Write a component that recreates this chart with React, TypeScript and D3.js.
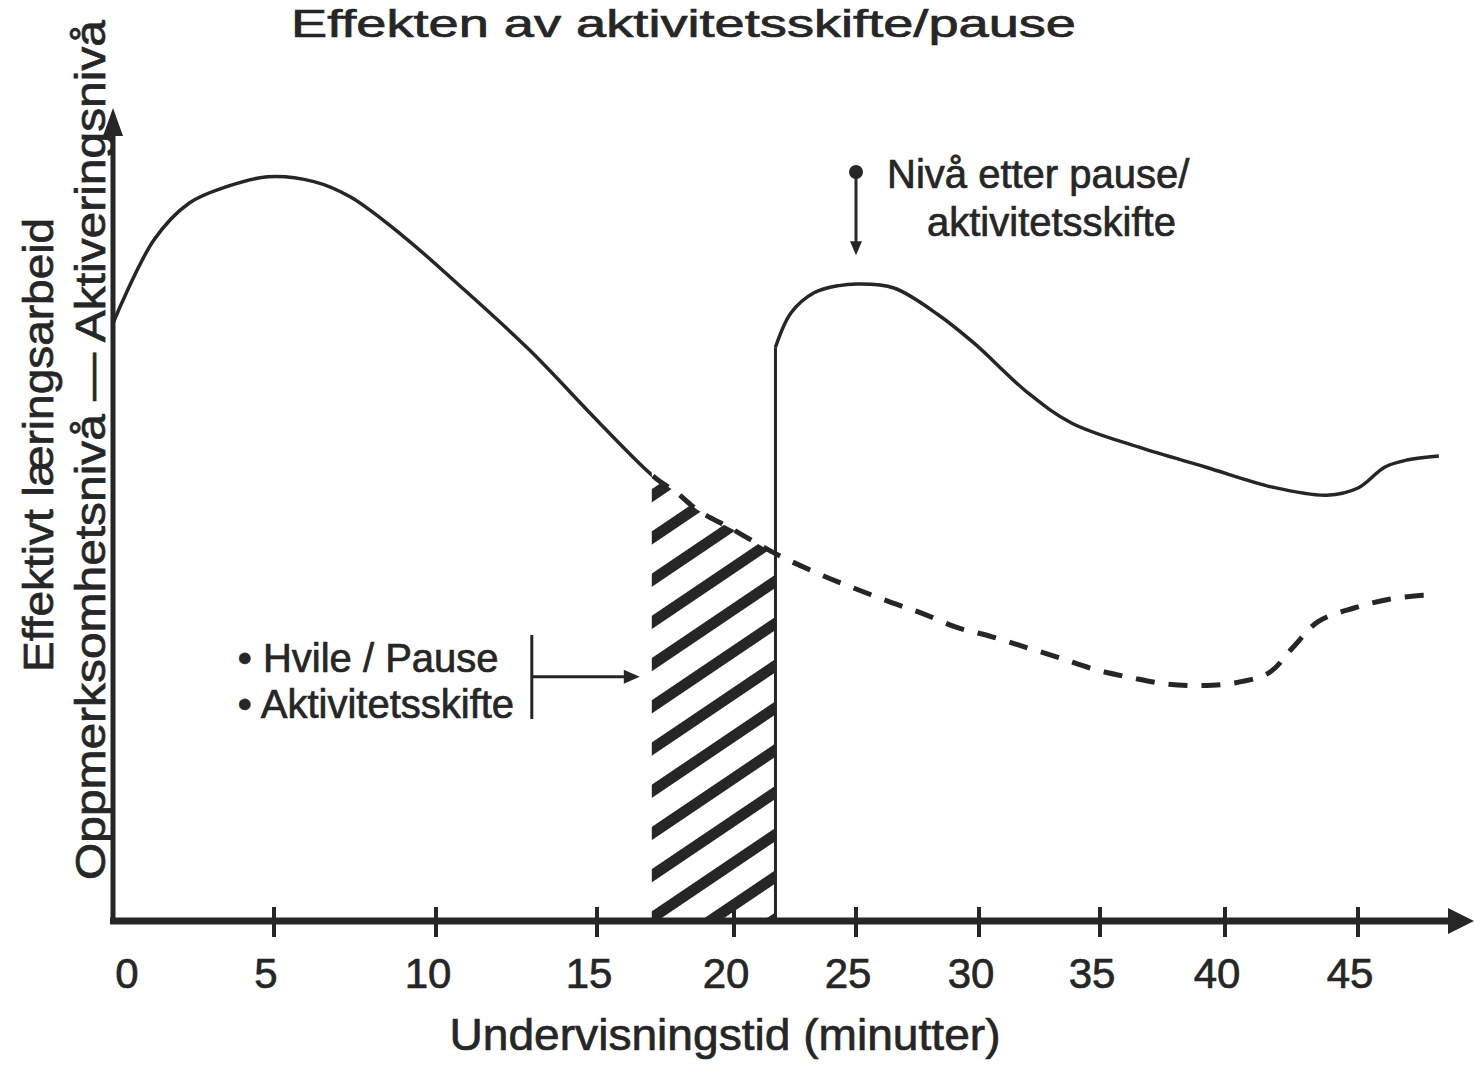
import React from 'react';
import * as d3 from 'd3';

// ---- data (minutes on x, activation level 0-100 on y) ----
const tickMinutes = [0, 5, 10, 15, 20, 25, 30, 35, 40, 45];
const tickLabels = ['0', '5', '10', '15', '20', '25', '30', '35', '40', '45'];

// Attention level without a pause (solid until the pause, dashed afterwards)
const attentionMinutes = [0, 1.27, 2.36, 3.48, 4.81, 6.23, 7.35, 9.01, 10.65, 12.89, 15.1, 17.08, 17.92, 18.65, 19.96, 21.7, 23.6, 24.9, 26.34, 27.64, 29.07, 30.54, 32.02, 33.3, 34.8, 36.24, 37.64, 39.0, 40.3, 41.65, 42.56, 43.5, 44.85, 46.17, 47.44, 47.7];
const attentionLevel = [74.6, 85.0, 89.6, 91.6, 92.9, 92.3, 90.4, 85.4, 79.6, 71.3, 62.1, 55.4, 53.4, 51.3, 48.8, 45.8, 43.1, 41.5, 39.8, 38.4, 36.6, 35.4, 34.0, 32.8, 31.3, 30.3, 29.5, 29.3, 29.6, 30.9, 34.1, 37.3, 39.0, 40.1, 40.6, 40.6];

// Attention level after pause / change of activity
const afterPauseMinutes = [21.7, 22.34, 23.28, 24.3, 25.08, 26.54, 28.37, 29.8, 32.02, 33.84, 36.56, 39.24, 41.8, 43.83, 45.0, 46.0, 46.84, 48.04];
const afterPauseLevel = [71.6, 75.9, 78.4, 79.3, 79.5, 79.0, 75.6, 72.1, 65.9, 62.1, 59.1, 56.6, 54.1, 53.1, 54.0, 56.6, 57.5, 58.0];

const pauseStartMinute = 17.0;
const pauseEndMinute = 21.7;
const markerMinute = 25;
const markerTopLevel = 93.5;
const markerTipLevel = 83.1;
const pauseArrowLevel = 30.4;

const title = 'Effekten av aktivitetsskifte/pause';
const xTitle = 'Undervisningstid (minutter)';
const yTitle1 = 'Effektivt læringsarbeid';
const yTitle2 = 'Oppmerksomhetsnivå — Aktiveringsnivå';
const pauseLabels = ['• Hvile / Pause', '• Aktivitetsskifte'];
const markerLabels = ['Nivå etter pause/', 'aktivitetsskifte'];

const W = 1474;
const H = 1067;
const INK = '#262626';
const FONT = '"Liberation Sans", Arial, Helvetica, sans-serif';

export default function App() {
  // hand-drawn axis: tick spacing is uneven in the original figure
  const x = d3
    .scaleLinear()
    .domain(tickMinutes)
    .range([113, 274, 436, 597, 734, 856, 979, 1100, 1225, 1358]);
  const y = d3.scaleLinear().domain([0, 100]).range([920, 120]);

  const attention = attentionMinutes.map((m, i) => [m, attentionLevel[i]] as [number, number]);
  const afterPause = afterPauseMinutes.map((m, i) => [m, afterPauseLevel[i]] as [number, number]);

  const curve = d3.curveCatmullRom.alpha(0.5);
  const line = d3
    .line<[number, number]>()
    .x((d) => x(d[0]))
    .y((d) => y(d[1]))
    .curve(curve);
  const area = d3
    .area<[number, number]>()
    .x((d) => x(d[0]))
    .y0(y(0))
    .y1((d) => y(d[1]))
    .curve(curve);

  const xs = x(pauseStartMinute);
  const xe = x(pauseEndMinute);
  const axisY = y(0) + 1;
  const mx = x(markerMinute);
  const pauseArrowY = y(pauseArrowLevel);
  const bracketX = xs - 120;

  const textStyle = { fontFamily: FONT, fill: INK, stroke: INK, strokeWidth: 0.7 } as const;

  return (
    <svg
      width={W}
      height={H}
      viewBox={`0 0 ${W} ${H}`}
      style={{ position: 'absolute', left: 0, top: 0, background: '#fff' }}
    >
      <defs>
        <pattern
          id="hatch"
          patternUnits="userSpaceOnUse"
          width={200}
          height={35}
          patternTransform="rotate(-34)"
        >
          <rect x={0} y={0} width={200} height={11} fill={INK} />
        </pattern>
        <clipPath id="underCurve">
          <path d={area(attention) || ''} />
        </clipPath>
        <clipPath id="solidPart">
          <rect x={0} y={0} width={xs} height={H} />
        </clipPath>
        <clipPath id="dashedPart">
          <rect x={xs} y={0} width={W - xs} height={H} />
        </clipPath>
      </defs>

      {/* title */}
      <text x={291} y={37} fontSize={38} textLength={785} lengthAdjust="spacingAndGlyphs" {...textStyle}>
        {title}
      </text>

      {/* y axis titles */}
      <text
        transform={`translate(53,445) rotate(-90)`}
        textAnchor="middle"
        fontSize={42}
        textLength={454}
        lengthAdjust="spacingAndGlyphs"
        {...textStyle}
      >
        {yTitle1}
      </text>
      <text
        transform={`translate(105,450) rotate(-90)`}
        textAnchor="middle"
        fontSize={42}
        textLength={860}
        lengthAdjust="spacingAndGlyphs"
        {...textStyle}
      >
        {yTitle2}
      </text>

      {/* hatched pause region */}
      <g clipPath="url(#underCurve)">
        <rect x={xs} y={0} width={xe - xs} height={axisY} fill="url(#hatch)" />
      </g>

      {/* attention curve without pause */}
      <path
        d={line(attention) || ''}
        fill="none"
        stroke={INK}
        strokeWidth={3.5}
        strokeLinejoin="round"
        clipPath="url(#solidPart)"
      />
      <path
        d={line(attention) || ''}
        fill="none"
        stroke={INK}
        strokeWidth={5}
        strokeDasharray="19 14"
        clipPath="url(#dashedPart)"
      />

      {/* curve after pause */}
      <line x1={xe} x2={xe} y1={axisY} y2={y(afterPauseLevel[0])} stroke={INK} strokeWidth={3} />
      <path d={line(afterPause) || ''} fill="none" stroke={INK} strokeWidth={3.5} strokeLinejoin="round" />

      {/* axes */}
      <line x1={113} x2={113} y1={axisY + 3} y2={132} stroke={INK} strokeWidth={5} />
      <polygon points={`103,136 113,108 123,136`} fill={INK} />
      <line x1={110} x2={1452} y1={axisY} y2={axisY} stroke={INK} strokeWidth={7} />
      <polygon points={`1448,${axisY - 13} 1474,${axisY} 1448,${axisY + 13}`} fill={INK} />

      {tickMinutes.slice(1).map((t) => (
        <line key={t} x1={x(t)} x2={x(t)} y1={axisY - 14} y2={axisY + 16} stroke={INK} strokeWidth={4} />
      ))}
      {tickMinutes.map((t, i) => (
        <text key={t} x={x(t) + (i === 0 ? 14 : -8)} y={988} fontSize={42} textAnchor="middle" {...textStyle}>
          {tickLabels[i]}
        </text>
      ))}

      <text x={725} y={1050} fontSize={45} textAnchor="middle" textLength={551} lengthAdjust="spacingAndGlyphs" {...textStyle}>
        {xTitle}
      </text>

      {/* pause annotation */}
      <text x={bracketX - 294} y={672} fontSize={40} {...textStyle}>
        {pauseLabels[0]}
      </text>
      <text x={bracketX - 294} y={718} fontSize={40} {...textStyle}>
        {pauseLabels[1]}
      </text>
      <line x1={bracketX} x2={bracketX} y1={635} y2={719} stroke={INK} strokeWidth={3} />
      <line x1={bracketX} x2={xs - 26} y1={pauseArrowY} y2={pauseArrowY} stroke={INK} strokeWidth={3} />
      <polygon
        points={`${xs - 28},${pauseArrowY - 7} ${xs - 12},${pauseArrowY} ${xs - 28},${pauseArrowY + 7}`}
        fill={INK}
      />

      {/* level-after-pause annotation */}
      <circle cx={mx} cy={y(markerTopLevel)} r={7} fill={INK} />
      <line x1={mx} x2={mx} y1={y(markerTopLevel)} y2={y(markerTipLevel) - 12} stroke={INK} strokeWidth={3} />
      <polygon
        points={`${mx - 6},${y(markerTipLevel) - 14} ${mx},${y(markerTipLevel)} ${mx + 6},${y(markerTipLevel) - 14}`}
        fill={INK}
      />
      <text x={mx + 31} y={188} fontSize={40} {...textStyle}>
        {markerLabels[0]}
      </text>
      <text x={mx + 71} y={236} fontSize={40} {...textStyle}>
        {markerLabels[1]}
      </text>
    </svg>
  );
}
